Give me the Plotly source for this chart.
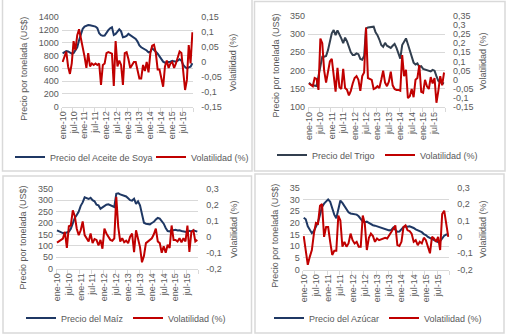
import plotly.graph_objects as go

W, H = 507, 335

# ---------------- data ----------------
MESES = ["ene", "feb", "mar", "abr", "may", "jun", "jul", "ago", "sep", "oct", "nov", "dic"]
ANIOS = ["10", "11", "12", "13", "14", "15"]
meses = [f"{m}-{a}" for a in ANIOS for m in MESES]

soya_precio = [836, 850, 870, 865, 840, 830, 840, 880, 930, 1040, 1150, 1220,
               1255, 1270, 1280, 1275, 1270, 1262, 1255, 1230, 1150, 1120, 1110, 1115,
               1160, 1200, 1227, 1243, 1123, 1140, 1175, 1212, 1180, 1087, 1095, 1107,
               1140, 1120, 1090, 1070, 1060, 1020, 960, 930, 915, 900, 880, 850,
               860, 914, 880, 862, 830, 784, 740, 705, 690, 690, 700, 705,
               720, 710, 705, 720, 742, 720, 653, 620, 600, 615, 627, 680]
soya_vol = [0.0, 0.02, 0.035, -0.015, -0.04, -0.005, 0.07, 0.04, 0.09, 0.11, 0.08, 0.06,
            0.018, -0.02, 0.03, -0.015, -0.005, -0.01, -0.005, -0.01, -0.005, -0.077, -0.01, -0.005,
            0.03, 0.033, 0.03, 0.028, -0.08, 0.07, -0.015, 0.005, -0.01, -0.077, 0.03, 0.033,
            0.01, -0.02, -0.01, 0.0, 0.0, -0.03, -0.055, -0.055, -0.01, -0.03, 0.0, -0.035,
            0.03, 0.055, 0.058, 0.03, -0.025, -0.025, -0.05, -0.083, -0.015, 0.005, -0.02, -0.005,
            0.0, -0.02, -0.005, 0.02, 0.035, 0.03, -0.04, -0.094, -0.06, 0.057, -0.005, 0.1]

trigo_precio = [167, 162, 160, 158, 158, 185, 215, 238, 238, 240, 256, 280,
                302, 311, 297, 310, 300, 288, 275, 290, 280, 262, 250, 243,
                243, 247, 245, 232, 230, 240, 315, 318, 318, 320, 320, 305,
                297, 285, 270, 265, 276, 268, 265, 262, 268, 273, 262, 250,
                233, 270, 279, 288, 272, 255, 238, 222, 217, 220, 210, 212,
                205, 203, 200, 200, 198, 202, 200, 185, 172, 168, 166, 165]
trigo_vol = [-0.02, -0.03, -0.035, 0.01, 0.005, -0.055, 0.225, 0.2, 0.05, -0.015, 0.05, 0.1,
             0.115, 0.02, -0.065, 0.065, -0.04, -0.05, 0.06, -0.045, -0.055, -0.085, -0.06, -0.02,
             0.01, 0.02, 0.0, -0.06, 0.02, 0.04, 0.285, 0.01, 0.005, 0.0, -0.05, -0.045,
             -0.035, -0.045, 0.0, 0.05, -0.015, -0.035, -0.01, 0.045, -0.03, -0.05, -0.055, -0.055,
             -0.06, 0.135, 0.02, 0.055, -0.1, -0.09, -0.05, -0.095, 0.0, 0.01, 0.08, -0.065,
             -0.07, 0.0, -0.035, -0.05, 0.015, -0.02, 0.01, -0.125, -0.06, 0.02, -0.03, 0.04]

maiz_precio = [168, 163, 160, 156, 155, 158, 162, 175, 200, 222, 235, 250,
               275, 290, 312, 310, 305, 310, 300, 295, 280, 277, 262, 268,
               275, 280, 282, 278, 272, 270, 328, 330, 325, 322, 318, 316,
               308, 300, 298, 306, 284, 295, 277, 240, 201, 197, 194, 194,
               200, 205, 215, 222, 219, 208, 197, 178, 165, 163, 170, 168,
               170, 167, 168, 165, 163, 163, 160, 166, 163, 168, 165, 162]
maiz_vol = [-0.037, -0.03, -0.02, -0.012, 0.03, -0.07, 0.065, 0.07, 0.165, 0.13, 0.05, 0.01,
            0.04, 0.095, 0.01, -0.01, -0.03, 0.02, -0.04, -0.015, -0.02, -0.055, -0.02, -0.075,
            0.05, 0.02, -0.005, -0.02, -0.025, -0.01, 0.25, 0.06, -0.03, -0.01, -0.035, -0.025,
            -0.04, 0.0, 0.02, -0.096, 0.04, -0.01, -0.065, -0.16, -0.12, -0.04, -0.03, -0.025,
            -0.01, 0.015, 0.05, -0.03, -0.04, -0.1, -0.06, -0.1, -0.05, -0.07, 0.07, -0.02,
            -0.02, -0.03, -0.01, -0.035, -0.01, -0.03, 0.07, -0.095, 0.03, 0.04, -0.03, -0.02]

azucar_precio = [22.2, 21.5, 18.5, 17.0, 15.6, 16.5, 18.5, 20.2, 23.5, 26.8, 28.2, 29.0,
                 30.0, 29.0, 26.5, 23.5, 22.0, 26.0, 29.5, 28.5, 27.0, 25.5, 24.5, 24.0,
                 23.8, 23.5, 23.5, 22.8, 21.5, 20.5, 20.3, 20.5, 20.0, 19.3, 19.0, 18.8,
                 18.5, 18.2, 17.8, 17.5, 17.2, 16.8, 16.8, 17.0, 18.0, 17.0, 16.2, 16.3,
                 17.5, 18.2, 18.5, 18.3, 18.5, 18.3, 17.8, 17.2, 16.8, 16.2, 16.0, 15.2,
                 14.8, 14.0, 13.5, 13.0, 12.6, 12.2, 11.8, 12.2, 13.2, 14.5, 15.0, 15.0]
azucar_vol = [0.005, -0.09, -0.17, -0.12, -0.08, 0.02, 0.085, 0.08, 0.19, 0.2, 0.0, 0.06,
              0.06, -0.03, -0.11, -0.085, -0.085, 0.13, 0.1, -0.06, -0.03, -0.06, -0.04, 0.02,
              -0.02, -0.04, -0.03, -0.06, -0.06, 0.13, 0.08, -0.08, -0.005, 0.02, 0.005, -0.03,
              -0.01, -0.02, -0.015, -0.01, -0.005, -0.01, 0.01, 0.03, 0.055, 0.07, -0.05, -0.055,
              -0.03, 0.06, 0.07, 0.04, 0.035, 0.02, -0.03, -0.02, -0.05, -0.03, -0.04, -0.005,
              -0.02, -0.06, -0.1, 0.0, -0.01, -0.03, 0.0, -0.08, 0.14, 0.16, 0.07, 0.0]

# tick labels
soya_ticks = [0, 200, 400, 600, 800, 1000, 1200, 1400]
soya_ticktext = ["0", "200", "400", "600", "800", "1000", "1200", "1400"]
soya_vticks = [-0.15, -0.1, -0.05, 0, 0.05, 0.1, 0.15]
soya_vtext = ["-0,15", "-0,1", "-0,05", "0", "0,05", "0,1", "0,15"]

trigo_ticks = [100, 150, 200, 250, 300, 350]
trigo_ticktext = ["100", "150", "200", "250", "300", "350"]
trigo_vticks = [-0.15, -0.1, -0.05, 0, 0.05, 0.1, 0.15, 0.2, 0.25, 0.3, 0.35]
trigo_vtext = ["-0,15", "-0,1", "-0,05", "0", "0,05", "0,1", "0,15", "0,2", "0,25", "0,3", "0,35"]

maiz_ticks = [0, 50, 100, 150, 200, 250, 300, 350]
maiz_ticktext = ["0", "50", "100", "150", "200", "250", "300", "350"]
maiz_vticks = [-0.2, -0.1, 0, 0.1, 0.2, 0.3]
maiz_vtext = ["-0,2", "-0,1", "0", "0,1", "0,2", "0,3"]

azucar_ticks = [0, 5, 10, 15, 20, 25, 30, 35]
azucar_ticktext = ["0", "5", "10", "15", "20", "25", "30", "35"]
azucar_vticks = [-0.2, -0.1, 0, 0.1, 0.2, 0.3]
azucar_vtext = ["-0,2", "-0,1", "0", "0,1", "0,2", "0,3"]

# ---------------- style ----------------
BLUE = "#1F3864"
BLUE_TRIGO = "#323F4F"
RED = "#C00000"
GRID = "#D9D9D9"
TXT = "#595959"
FONT = "Liberation Sans, Arial, sans-serif"
FS = 9


def fx(v):
    return v / W


def fy(v):
    return 1 - v / H


panels = [
    dict(label="Precio del Aceite de Soya", precio=soya_precio, vol=soya_vol, color=BLUE,
         ticks=soya_ticks, ticktext=soya_ticktext, vticks=soya_vticks, vtext=soya_vtext,
         plot=(61.7, 193.3, 17.3, 106.7), frame=(2.5, 252, -3, 171),
         ltitle=(24, 68.7), rtitle=(233.3, 62), leg=(10, 157, 96)),
    dict(label="Precio del Trigo", precio=trigo_precio, vol=trigo_vol, color=BLUE_TRIGO,
         ticks=trigo_ticks, ticktext=trigo_ticktext, vticks=trigo_vticks, vtext=trigo_vtext,
         plot=(308, 445, 15.7, 107.3), frame=(254.5, 505, 1.5, 171),
         ltitle=(275.7, 65.8), rtitle=(483, 61), leg=(272, 155, 63)),
    dict(label="Precio del Maíz", precio=maiz_precio, vol=maiz_vol, color=BLUE,
         ticks=maiz_ticks, ticktext=maiz_ticktext, vticks=maiz_vticks, vtext=maiz_vtext,
         plot=(56, 198.3, 188.7, 268.7), frame=(3, 251.5, 176, 333),
         ltitle=(23.3, 237.3), rtitle=(233.3, 228.7), leg=(21, 318, 62)),
    dict(label="Precio del Azúcar", precio=azucar_precio, vol=azucar_vol, color=BLUE,
         ticks=azucar_ticks, ticktext=azucar_ticktext, vticks=azucar_vticks, vtext=azucar_vtext,
         plot=(302.7, 449.3, 187.7, 269.7), frame=(255, 504, 174, 333),
         ltitle=(274.7, 236), rtitle=(483, 229), leg=(269, 318, 70)),
]

fig = go.Figure()
layout = dict(
    width=W, height=H, margin=dict(l=0, r=0, t=0, b=0, autoexpand=False),
    paper_bgcolor="white", plot_bgcolor="rgba(0,0,0,0)",
    font=dict(family=FONT, size=FS, color=TXT),
    showlegend=True, shapes=[], annotations=[],
)

for k, p in enumerate(panels):
    n = k + 1
    xa = "x" if n == 1 else f"x{n}"
    ya = "y" if n == 1 else f"y{n}"
    ya2 = f"y{n + 4}"
    leg = "legend" if n == 1 else f"legend{n}"
    x0, x1, y0, y1 = p["plot"]

    fig.add_trace(go.Scatter(x=meses, y=p["precio"], mode="lines", name=p["label"],
                             line=dict(color=p["color"], width=2), xaxis=xa, yaxis=ya,
                             legend=leg))
    fig.add_trace(go.Scatter(x=meses, y=p["vol"], mode="lines", name="Volatilidad (%)",
                             line=dict(color=RED, width=2), xaxis=xa, yaxis=ya2,
                             legend=leg))

    xkey = "xaxis" if n == 1 else f"xaxis{n}"
    ykey = "yaxis" if n == 1 else f"yaxis{n}"
    y2key = f"yaxis{n + 4}"
    layout[xkey] = dict(
        domain=[fx(x0), fx(x1)], anchor=ya, type="category",
        range=[-0.5, len(meses) - 0.5], tickmode="linear", tick0=0, dtick=6,
        tickson="boundaries", ticks="outside", ticklen=4, tickcolor=GRID, tickwidth=1,
        tickangle=-90, showline=True, linecolor=GRID, linewidth=1, showgrid=False,
        tickfont=dict(size=FS, color=TXT), fixedrange=True, automargin=False,
    )
    layout[ykey] = dict(
        domain=[fy(y1), fy(y0)], anchor=xa,
        range=[p["ticks"][0], p["ticks"][-1]], tickmode="array",
        tickvals=p["ticks"], ticktext=p["ticktext"],
        showgrid=True, gridcolor=GRID, gridwidth=1, zeroline=False, showline=False,
        ticks="", ticklabelstandoff=2, tickfont=dict(size=FS, color=TXT), fixedrange=True,
        automargin=False,
    )
    layout[y2key] = dict(
        overlaying=ya, side="right", anchor=xa,
        range=[p["vticks"][0], p["vticks"][-1]], tickmode="array",
        tickvals=p["vticks"], ticktext=p["vtext"],
        showgrid=False, zeroline=False, showline=False,
        ticks="", ticklabelstandoff=7, tickfont=dict(size=FS, color=TXT), fixedrange=True,
        automargin=False,
    )
    lx, ly, ew = p["leg"]
    layout[leg] = dict(
        orientation="h", x=fx(lx), y=fy(ly), xanchor="left", yanchor="middle",
        entrywidth=ew, entrywidthmode="pixels", bgcolor="rgba(0,0,0,0)", borderwidth=0,
        font=dict(size=FS, color=TXT), itemclick=False, itemdoubleclick=False,
    )
    fx0, fx1, fy0, fy1 = p["frame"]
    layout["shapes"].append(dict(
        type="rect", xref="paper", yref="paper", x0=fx(fx0), x1=fx(fx1), y0=fy(fy1), y1=fy(fy0),
        line=dict(color=GRID, width=1.5), fillcolor="rgba(0,0,0,0)", layer="below"))
    tx, ty = p["ltitle"]
    layout["annotations"].append(dict(
        text="Precio por tonelada (US$)", xref="paper", yref="paper", x=fx(tx), y=fy(ty),
        xanchor="center", yanchor="middle", textangle=-90, showarrow=False,
        font=dict(size=FS, color=TXT)))
    tx, ty = p["rtitle"]
    layout["annotations"].append(dict(
        text="Volatilidad (%)", xref="paper", yref="paper", x=fx(tx), y=fy(ty),
        xanchor="center", yanchor="middle", textangle=-90, showarrow=False,
        font=dict(size=FS, color=TXT)))

fig.update_layout(**layout)
fig.write_html(
    "out.html",
    config={"displayModeBar": False},
    post_script="document.body.style.margin='0px'; document.body.style.overflow='hidden';",
)
